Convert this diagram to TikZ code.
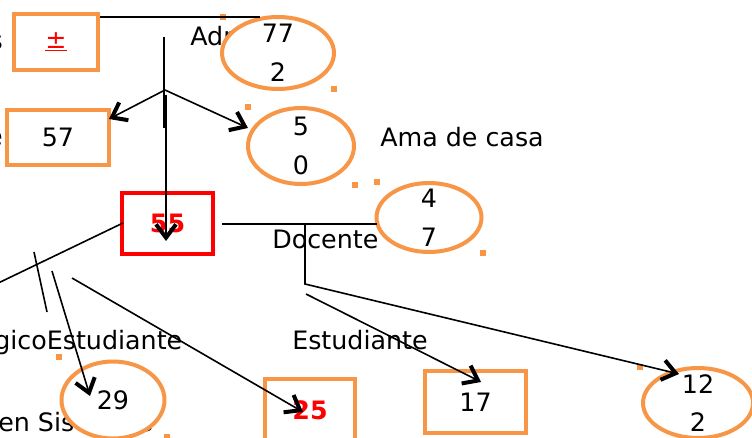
\documentclass[tikz,border=0pt]{standalone}
\usepackage{fontspec}
\setmainfont{DejaVu Sans}
\usetikzlibrary{shapes.geometric, arrows.meta, positioning}
\definecolor{orng}{RGB}{247,150,70}
\definecolor{rd}{RGB}{255,0,0}
\newcommand{\dfont}{\fontsize{19}{29}\selectfont}
\tikzstyle{arrow} = [line width=1.2pt,-{Straight Barb[length=10pt,width=15pt,line width=3pt]},draw=black]
\tikzstyle{conn} = [line width=1.2pt,draw=black]
\tikzstyle{obox} = [rectangle, draw=orng, line width=3pt, fill=white, inner sep=0pt]
\tikzstyle{rbox} = [rectangle, draw=rd, line width=3pt, fill=white, inner sep=0pt, text=rd, font=\dfont\bfseries]
\tikzstyle{oell} = [ellipse, draw=orng, line width=3pt, fill=white, inner sep=0pt, label={[align=center, inner sep=0pt]center:#1}]
\tikzstyle{lbl} = [inner sep=0pt, anchor=base west]

\begin{document}
\begin{tikzpicture}[x=0.75pt, y=-0.75pt, font=\dfont]
        \useasboundingbox (0,0) rectangle (752,438);

        % loose texts
        \node (Ls) [lbl, anchor=base east] at (3,50) {s};
        \node (Le) [lbl, anchor=base east] at (3,146) {e};
        \node (Ladm) [lbl] at (190,46) {Adm};
        \node (Lama) [lbl] at (380,147) {Ama de casa};
        \node (Ldoc) [lbl] at (272,248) {Docente};
        \node (Lest) [lbl] at (-6,349) {gicoEstudiante};
        \node (Lestb) [lbl] at (292,349) {Estudiante};
        \node (Lsis) [lbl] at (-2,431) {en Sistemas};

        % boxes and ellipses
        \node (A) [obox, minimum width=63pt, minimum height=42pt, text=rd] at (56,42) {\underline{±}};
        \node (B) [obox, minimum width=76.5pt, minimum height=41.25pt] at (58,137.5) {57};
        \node (C) [rbox, minimum width=68.25pt, minimum height=45.75pt] at (167.5,223.5) {55};
        \node (D) [obox, minimum width=67.5pt, minimum height=46.5pt, text=rd, font=\dfont\bfseries] at (310,410) {25};
        \node (E) [obox, minimum width=75.75pt, minimum height=46.5pt] at (475.5,402) {17};
        \node (F) [oell={77\\2}, minimum width=84pt, minimum height=54pt] at (278,53) {};
        \node (G) [oell={5\\0}, minimum width=79.5pt, minimum height=57pt] at (301,146) {};
        \node (H) [oell={4\\7}, minimum width=78.75pt, minimum height=51.75pt] at (429,217.5) {};
        \node (I) [oell={29}, minimum width=77.25pt, minimum height=57.75pt] at (113,400) {};
        \node (J) [oell={12\\2}, minimum width=82.5pt, minimum height=52.5pt] at (698,403) {};

        % small marks
        \foreach \x/\y in {223/17, 334/89, 248/107, 355/185, 377/182, 483/253, 640/367, 59/357, 167/437}
            \fill[orng] (\x-3,\y-3) rectangle ++(6,6);

        % connector ends
        \coordinate (t1) at (260,17);
        \coordinate (v1) at (164,37);
        \coordinate (v2) at (164,128);
        \coordinate (v3) at (166,95);
        \coordinate (v4) at (166,241);
        \coordinate (b1) at (165,90);
        \coordinate (b2) at (109,119);
        \coordinate (b3) at (248,128);
        \coordinate (r1) at (222,224);
        \coordinate (r2) at (377,224);
        \coordinate (d1) at (305,224);
        \coordinate (d2) at (305,284);
        \coordinate (d3) at (306,294);
        \coordinate (d4) at (481,382);
        \coordinate (d5) at (679,374);
        \coordinate (l1) at (123,223);
        \coordinate (l2) at (-10,287);
        \coordinate (s1) at (34,252);
        \coordinate (s2) at (47,312);
        \coordinate (a1) at (52,271);
        \coordinate (a2) at (90,396);
        \coordinate (a3) at (72,278);
        \coordinate (a4) at (303,412);

        \draw[conn] (A.east |- t1) -- (t1);
        \draw[conn, line width=1.6pt] (v1) -- (v2);
        \draw[arrow] (v3) -- (v4);
        \draw[arrow] (b1) -- (b2);
        \draw[arrow] (b1) -- (b3);
        \draw[conn] (r1) -- (r2);
        \draw[arrow] (d1) -- (d2) -- (d5);
        \draw[arrow] (d3) -- (d4);
        \draw[conn] (l1) -- (l2);
        \draw[conn] (s1) -- (s2);
        \draw[arrow] (a1) -- (a2);
        \draw[arrow] (a3) -- (a4);

\end{tikzpicture}
\end{document}
